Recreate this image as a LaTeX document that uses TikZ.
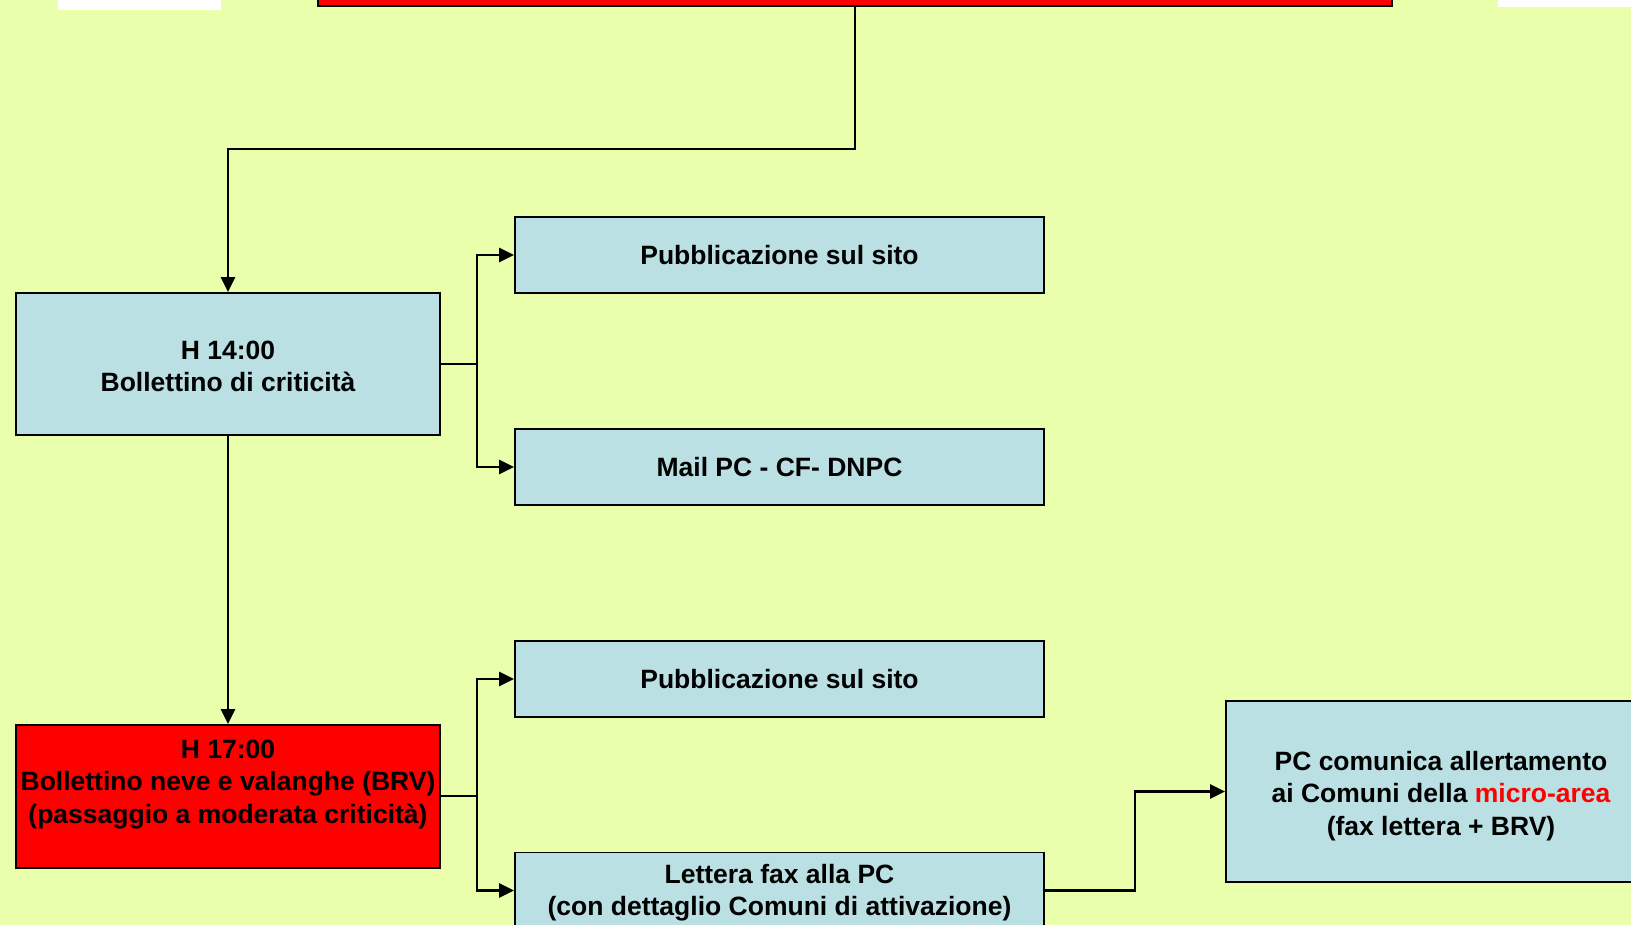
\documentclass[tikz,border=0pt]{standalone}
\usepackage{fontspec}
\setmainfont{Liberation Sans}
\usetikzlibrary{arrows.meta}
\definecolor{bgc}{RGB}{233,255,171}
\definecolor{boxc}{RGB}{186,224,227}
\definecolor{redc}{RGB}{255,0,0}
\tikzset{
  box/.style={draw=black, line width=1.8pt, fill=boxc, inner sep=0pt, align=center,
    font=\bfseries\fontsize{26.5}{32.5}\selectfont, text=black},
  redbox/.style={box, fill=redc},
  arr/.style={line width=2.6pt, -{Triangle[length=15pt,width=14pt]}},
  ln/.style={line width=2.6pt}
}
\begin{document}
\begin{tikzpicture}[x=1pt,y=-1pt]
\useasboundingbox (0,0) rectangle (1631,925);
\clip (0,0) rectangle (1631,925);
\fill[bgc] (0,0) rectangle (1631,925);
\fill[white] (58,-5) rectangle (221,10);
\fill[white] (1498,-5) rectangle (1640,7);
% nodes
\node[redbox, minimum width=1074pt, minimum height=60pt] (top) at (855,-24) {};
\node[box, minimum width=424pt, minimum height=142pt] (A) at (228,364) {\rule{0pt}{23.5pt}H 14:00\\Bollettino di criticità};
\node[box, minimum width=529pt, minimum height=76pt] (P1) at (779.5,255) {Pubblicazione sul sito};
\node[box, minimum width=529pt, minimum height=76pt] (M) at (779.5,467) {Mail PC - CF- DNPC};
\node[redbox, minimum width=424pt, minimum height=143pt] (B) at (228,796.5) {H 17:00\\Bollettino neve e valanghe (BRV)\\(passaggio a moderata criticità)\\[-2pt]\mbox{}};
\node[box, minimum width=529pt, minimum height=76pt] (P2) at (779.5,679) {Pubblicazione sul sito};
\node[box, minimum width=529pt, minimum height=76pt] (L) at (779.5,890.5) {\rule{0pt}{23.5pt}Lettera fax alla PC\\(con dettaglio Comuni di attivazione)};
\node[box, minimum width=430pt, minimum height=181pt] (C) at (1441,791.5) {\rule{0pt}{27.5pt}PC comunica allertamento\\ai Comuni della \textcolor{redc}{micro-area}\\(fax lettera + BRV)};
% junctions
\coordinate (t1) at (855,149);
\coordinate (t2) at (228,149);
\coordinate (j1) at (477,364);
\coordinate (j2) at (477,796);
\coordinate (k1) at (1135,890.5);
\coordinate (k2) at (1135,791.5);
% connectors
\draw[arr] (top.south) -- (t1) -- (t2) -- (A.north);
\draw[ln] (A.east) -- (j1);
\draw[arr] (j1) |- (P1.west);
\draw[arr] (j1) |- (M.west);
\draw[arr] (A.south) -- (B.north);
\draw[ln] (B.east |- j2) -- (j2);
\draw[arr] (j2) |- (P2.west);
\draw[arr] (j2) |- (L.west);
\draw[arr] (L.east) -- (k1) -- (k2) -- (C.west);
\end{tikzpicture}
\end{document}
